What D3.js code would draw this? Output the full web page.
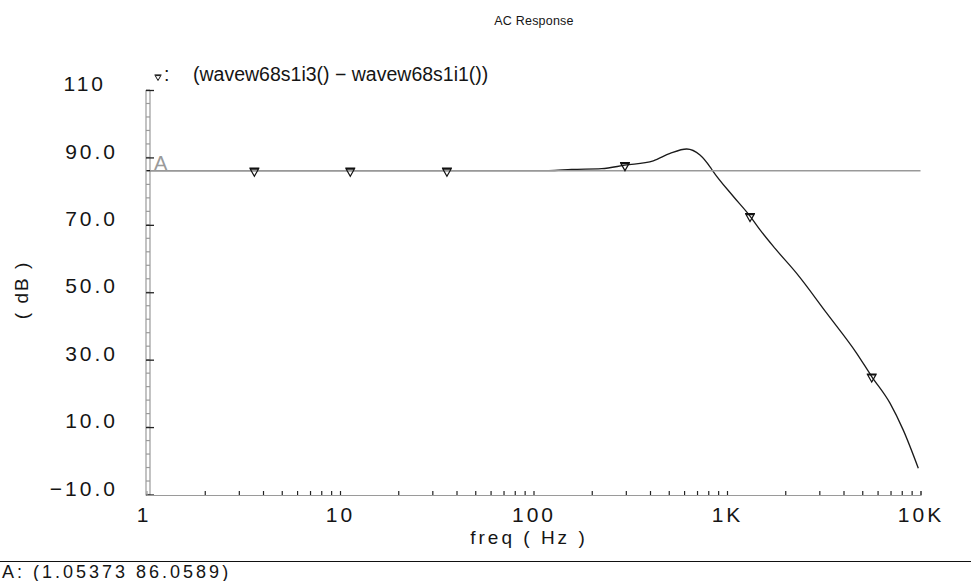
<!DOCTYPE html>
<html>
<head>
<meta charset="utf-8">
<script src="https://cdn.jsdelivr.net/npm/d3@7"></script>
<style>
  body { margin: 0; background: #fff; }
  svg text { font-family: "Liberation Sans", Arial, sans-serif; fill: #151515; }
</style>
</head>
<body>
<svg id="chart" width="971" height="581"></svg>
<script>
// AC response of (wavew68s1i3() - wavew68s1i1()) in dB versus frequency
const freqHz = [1, 10, 50, 120, 157.5, 225, 297, 416, 508, 619, 725, 817, 849, 1079, 1315, 1482, 1771, 2291, 3275, 4680, 5597, 6955, 8147, 9744];
const gainDb = [86.06, 86.06, 86.06, 86.07, 86.42, 86.65, 87.7, 89.0, 91.2, 92.5, 90.7, 87.2, 85.8, 78.4, 72.6, 68.5, 63.0, 55.6, 43.8, 31.9, 25.0, 17.1, 9.1, -2.2];

// Symbol markers placed along the trace
const markerHz = [3.61, 11.3, 35.7, 297, 1315, 5597];
const markerDb = [86.06, 86.06, 86.06, 87.7, 72.6, 25.0];

// Axis ticks
const xTickValues = [1, 10, 100, 1000, 10000];
const xTickLabels = ["1", "10", "100", "1K", "10K"];
const yTickValues = [-10, 10, 30, 50, 70, 90, 110];
const yTickLabels = ["\u221210.0", "10.0", "30.0", "50.0", "70.0", "90.0", "110"];

// Cursor A
const cursorHz = 1.05373;
const cursorDb = 86.0589;

const svg = d3.select("#chart");
const plotLeft = 146.5, plotRight = 920.5, plotTop = 90, plotBottom = 494.5;

const x = d3.scaleLog().domain([1, 10000]).range([plotLeft, plotRight]);
const y = d3.scaleLinear().domain([-10, 110]).range([plotBottom, plotTop]);

const axisGray = "#9a9a9a";

// Title
svg.append("text").attr("x", 534).attr("y", 25).attr("text-anchor", "middle")
  .style("font-size", "12.5px").style("letter-spacing", "0.2px").text("AC Response");

// Y axis: double rail with rungs
svg.append("line").attr("x1", 146).attr("x2", 146).attr("y1", plotTop).attr("y2", plotBottom + 1)
  .attr("stroke", axisGray).attr("stroke-width", 1.2);
svg.append("line").attr("x1", 150).attr("x2", 150).attr("y1", plotTop).attr("y2", plotBottom + 1)
  .attr("stroke", axisGray).attr("stroke-width", 1.2);
const minorY = d3.range(-10, 110.01, 4);
svg.append("g").selectAll("line").data(minorY).join("line")
  .attr("x1", 146).attr("x2", 150)
  .attr("y1", d => y(d)).attr("y2", d => y(d))
  .attr("stroke", axisGray).attr("stroke-width", 1.2);

// Major y ticks and labels
const yAxis = d3.axisRight(y).tickValues(yTickValues).tickSize(8)
  .tickFormat((d, i) => yTickLabels[i]);
const gy = svg.append("g").attr("transform", "translate(146,0)").call(yAxis);
gy.select(".domain").remove();
gy.selectAll(".tick line").attr("stroke", "#222").attr("stroke-width", 1.3);
gy.selectAll(".tick text")
  .attr("x", (d, i) => yTickLabels[i].includes(".") ? -28 : -40)
  .attr("dy", "0.03em").attr("text-anchor", "end")
  .style("font-size", "21px").style("letter-spacing", "3px");

// X axis: baseline with upward minor ticks
const minorX = [];
for (let dec = 1; dec < 10000; dec *= 10) for (let k = 2; k <= 10; k++) minorX.push(dec * k);
const xAxis = d3.axisTop(x).tickValues(minorX).tickSize(4).tickFormat("");
const gx = svg.append("g").attr("transform", `translate(0,${plotBottom + 0.5})`).call(xAxis);
gx.select(".domain").attr("stroke", axisGray).attr("stroke-width", 1.2);
gx.selectAll(".tick line").attr("stroke", "#222").attr("stroke-width", 1.2);

const xLabels = d3.axisBottom(x).tickValues(xTickValues).tickSize(0)
  .tickFormat((d, i) => xTickLabels[i]);
const gxl = svg.append("g").attr("transform", `translate(0,${plotBottom})`).call(xLabels);
gxl.select(".domain").remove();
gxl.selectAll(".tick text").attr("y", 27).attr("dy", 0).attr("dx", (d, i) => i === 0 ? -3 : 0)
  .style("font-size", "21px").style("letter-spacing", "3px");

// Axis titles
svg.append("text").attr("x", 529).attr("y", 544).attr("text-anchor", "middle")
  .style("font-size", "19px").style("letter-spacing", "3px")
  .attr("xml:space", "preserve").text("freq ( Hz )");
svg.append("text").attr("transform", "translate(28,290) rotate(-90)").attr("text-anchor", "middle")
  .style("font-size", "19px").style("letter-spacing", "2px")
  .attr("xml:space", "preserve").text("( dB )");

// Trace
const line = d3.line().x(d => x(d[0])).y(d => y(d[1])).curve(d3.curveMonotoneX);
svg.append("path").datum(d3.zip(freqHz, gainDb))
  .attr("d", line).attr("fill", "none").attr("stroke", "#1a1a1a").attr("stroke-width", 1.3);

// Cursor A horizontal line and tag
svg.append("line").attr("x1", 150).attr("x2", plotRight).attr("y1", y(cursorDb)).attr("y2", y(cursorDb))
  .attr("stroke", "#999").attr("stroke-width", 1.6);
svg.append("text").attr("x", 154).attr("y", y(cursorDb) - 1)
  .style("font-size", "20px").style("fill", "#9a9a9a").text("A");

// Marker glyph: bar on top of a downward triangle
function markerPath(s) {
  return `M${-5 * s},${-3 * s}H${5 * s}M${-4 * s},${-2 * s}L0,${5 * s}L${4 * s},${-2 * s}Z`;
}
svg.append("g").selectAll("path").data(d3.zip(markerHz, markerDb)).join("path")
  .attr("transform", d => `translate(${x(d[0])},${y(d[1]) + 0.5})`)
  .attr("d", markerPath(1)).attr("fill", "none").attr("stroke", "#111").attr("stroke-width", 1.2);

// Legend
svg.append("path").attr("transform", "translate(158,77) scale(0.7)")
  .attr("d", markerPath(1)).attr("fill", "none").attr("stroke", "#111").attr("stroke-width", 1.4);
svg.append("text").attr("x", 164).attr("y", 81).style("font-size", "19.5px").text(":");
svg.append("text").attr("x", 193).attr("y", 81).style("font-size", "19.5px")
  .attr("xml:space", "preserve").text("(wavew68s1i3() \u2212 wavew68s1i1())");

// Cursor readout
svg.append("line").attr("x1", 0).attr("x2", 971).attr("y1", 561.5).attr("y2", 561.5)
  .attr("stroke", "#111").attr("stroke-width", 1.2);
svg.append("text").attr("x", 2).attr("y", 578).style("font-size", "18px").style("letter-spacing", "3px")
  .attr("xml:space", "preserve").text(`A: (${cursorHz} ${cursorDb})`);
</script>
</body>
</html>
